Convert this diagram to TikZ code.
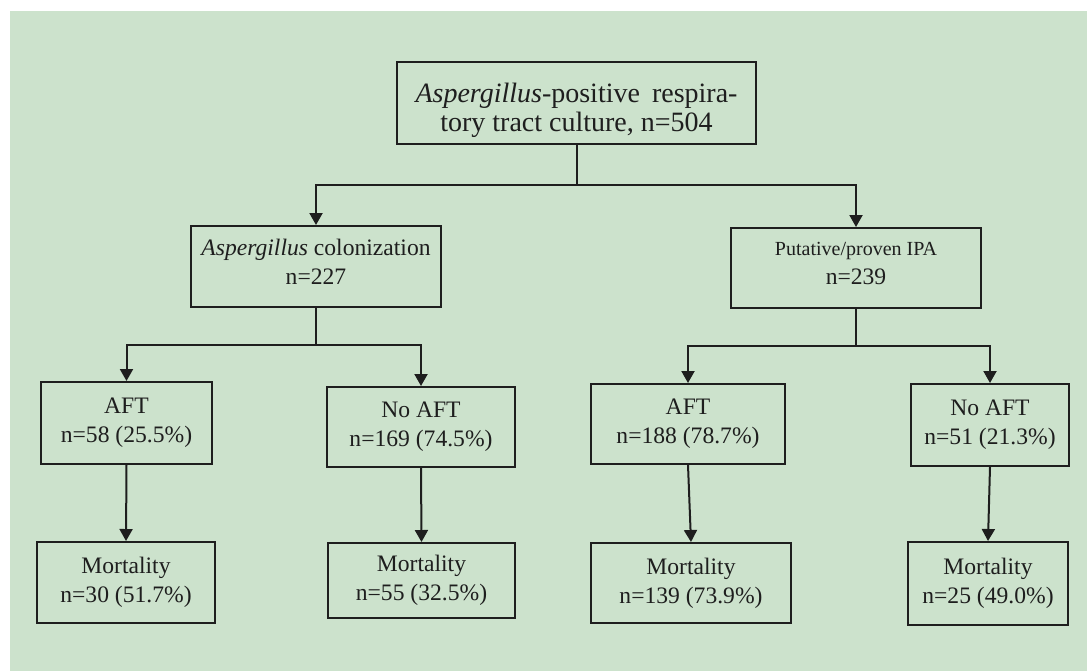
\documentclass[tikz,border=0pt]{standalone}
\usepackage{fontspec}
\setmainfont{Liberation Serif}
\usetikzlibrary{arrows.meta}
\definecolor{bggreen}{RGB}{204,226,204}
\definecolor{inkgray}{RGB}{30,30,30}
\tikzset{
  flowbox/.style={draw=inkgray, line width=1pt, align=center, inner sep=2pt,
    text=inkgray, font=\fontsize{11.8}{14.5}\selectfont},
  flowarrow/.style={draw=inkgray, line width=1pt,
    -{Triangle[width=6.5pt,length=6pt]}},
}
\begin{document}
\begin{tikzpicture}[x=0.5pt,y=-0.5pt]
        % Background with white margin top and left
        \fill[white] (0,0) rectangle (1087,671);
        \fill[bggreen] (10,11) rectangle (1087,671);
        \useasboundingbox (0,0) rectangle (1087,671);

        % Top box
        \node[flowbox, font=\fontsize{14}{14.5}\selectfont, minimum width=179.5pt, minimum height=41pt] (culture) at (576.5,103)
            {\rule{0pt}{17pt}\makebox[161pt]{\textit{Aspergillus}-positive\hfill respira-}\\tory tract culture, n=504};

        % Second row
        \node[flowbox, minimum width=125pt, minimum height=40.5pt] (colon) at (316,266.5)
            {\textit{Aspergillus} colonization\\n=227\\[-9.5pt]};
        \node[flowbox, minimum width=125pt, minimum height=40pt] (ipa) at (856,268)
            {{\fontsize{10}{14.5}\selectfont Putative/proven IPA}\\n=239\\[-9.5pt]};

        % Third row
        \node[flowbox, minimum width=85.5pt, minimum height=41pt] (aftA) at (126.5,423)
            {AFT\\n=58 (25.5\%)};
        \node[flowbox, minimum width=94pt, minimum height=40pt] (noaftA) at (421,427)
            {No AFT\\n=169 (74.5\%)};
        \node[flowbox, minimum width=97pt, minimum height=40pt] (aftB) at (688,424)
            {AFT\\n=188 (78.7\%)};
        \node[flowbox, minimum width=79pt, minimum height=41pt] (noaftB) at (990,425)
            {No AFT\\n=51 (21.3\%)};

        % Bottom row
        \node[flowbox, minimum width=89pt, minimum height=40.5pt] (mortA) at (126,582.5)
            {Mortality\\n=30 (51.7\%)};
        \node[flowbox, minimum width=93.5pt, minimum height=37.5pt] (mortB) at (421.5,580.5)
            {Mortality\\n=55 (32.5\%)};
        \node[flowbox, minimum width=100pt, minimum height=40pt] (mortC) at (691,583)
            {Mortality\\n=139 (73.9\%)};
        \node[flowbox, minimum width=80pt, minimum height=41.5pt] (mortD) at (988,583.5)
            {Mortality\\n=25 (49.0\%)};

        % Split points
        \coordinate (splitTop) at (576.5,185);
        \coordinate (splitColon) at (316,345);
        \coordinate (splitIpa) at (856,346);

        % Branches from top box
        \draw[draw=inkgray, line width=1pt] (culture.south) -- (splitTop);
        \draw[flowarrow] (splitTop) -| (colon.north);
        \draw[flowarrow] (splitTop) -| (ipa.north);

        % Branches from second row
        \draw[draw=inkgray, line width=1pt] (colon.south) -- (splitColon);
        \draw[flowarrow] (splitColon) -| (aftA.north);
        \draw[flowarrow] (splitColon) -| (noaftA.north);
        \draw[draw=inkgray, line width=1pt] (ipa.south) -- (splitIpa);
        \draw[flowarrow] (splitIpa) -| (aftB.north);
        \draw[flowarrow] (splitIpa) -| (noaftB.north);

        % Down to mortality
        \draw[flowarrow] (aftA.south) -- (mortA.north);
        \draw[flowarrow] (noaftA.south) -- (mortB.north);
        \draw[flowarrow] (aftB.south) -- (mortC.north);
        \draw[flowarrow] (noaftB.south) -- (mortD.north);
\end{tikzpicture}
\end{document}
